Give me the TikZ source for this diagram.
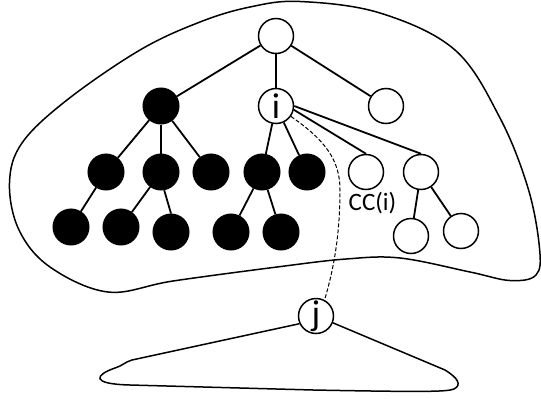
\documentclass[tikz,border=0pt]{standalone}
\usepackage{fontspec}
\setmainfont{Carlito}
\begin{document}
\begin{tikzpicture}[x=1pt,y=-1pt,
  wn/.style={circle,draw=black,fill=white,line width=1.5pt,minimum size=35pt,inner sep=0pt,font=\fontsize{36}{36}\selectfont},
  bn/.style={circle,draw=black,fill=black,line width=1.5pt,minimum size=35.5pt,inner sep=0pt},
  edge/.style={line width=1.8pt},
  blob/.style={line width=1.5pt}]
\useasboundingbox (0,0) rectangle (541,399);
% outer blob
\draw[blob] plot[smooth cycle,tension=0.6] coordinates {
 (300,1.5) (380,13) (455,50) (500,118) (528,188) (539.5,248) (536,275) (510,280.5)
 (470,272) (400,258) (346,259) (277,267) (173,281) (108,292) (50,267) (19,230)
 (9.5,183) (22,143) (67,100) (140,50) (200,22) (250,7)};
% nodes
\node[wn] (root) at (276,36) {};
\node[bn] (b1) at (161,106) {};
\node[wn] (i) at (276,106) {i};
\node[wn] (w1) at (386,106) {};
\node[bn] (b21) at (106,172) {};
\node[bn] (b22) at (161,172) {};
\node[bn] (b23) at (211,172) {};
\node[bn] (b24) at (262,172) {};
\node[bn] (b25) at (307,172) {};
\node[wn] (w21) at (366,172) {};
\node[wn] (w22) at (421,172) {};
\node[bn] (b31) at (71,227) {};
\node[bn] (b32) at (121,227) {};
\node[bn] (b33) at (171,232) {};
\node[bn] (b34) at (231,232) {};
\node[bn] (b35) at (281,232) {};
\node[wn] (w31) at (411,236) {};
\node[wn] (w32) at (461,231) {};
\node[wn] (j) at (316,316) {j};
\node[font=\fontsize{25}{25}\selectfont] (cc) at (372.5,203) {CC(i)};
% edges
\draw[edge] (root) -- (b1);
\draw[edge] (root) -- (i);
\draw[edge] (root) -- (w1);
\draw[edge] (b1) -- (b21);
\draw[edge] (b1) -- (b22);
\draw[edge] (b1) -- (b23);
\draw[edge] (i) -- (b24);
\draw[edge] (i) -- (b25);
\draw[edge] (i.-12) -- (w21.north);
\draw[edge] (i.east) -- (w22.north);
\draw[edge] (b21) -- (b31);
\draw[edge] (b22) -- (b32);
\draw[edge] (b22.-80) -- (b33.north);
\draw[edge] (b24) -- (b34);
\draw[edge] (b24) -- (b35);
\draw[edge] (w22) -- (w31);
\draw[edge] (w22) -- (w32);
% dashed path
\draw[line width=1pt,dash pattern=on 4pt off 2pt] (i.-35) .. controls (325,140) and (340,160) .. (340,190)
  .. controls (340,240) and (332,275) .. (j.62);
% lower blob
\draw[blob] (j.205) -- (132,360) .. controls (125,362) and (122,366) .. (115,368)
  .. controls (95,375) and (90,384) .. (130,385) -- (313,390) .. controls (420,392) and (447,392) .. (454,389)
  .. controls (462,385) and (458,378) .. (445,370) -- (j.-22);
\end{tikzpicture}
\end{document}
